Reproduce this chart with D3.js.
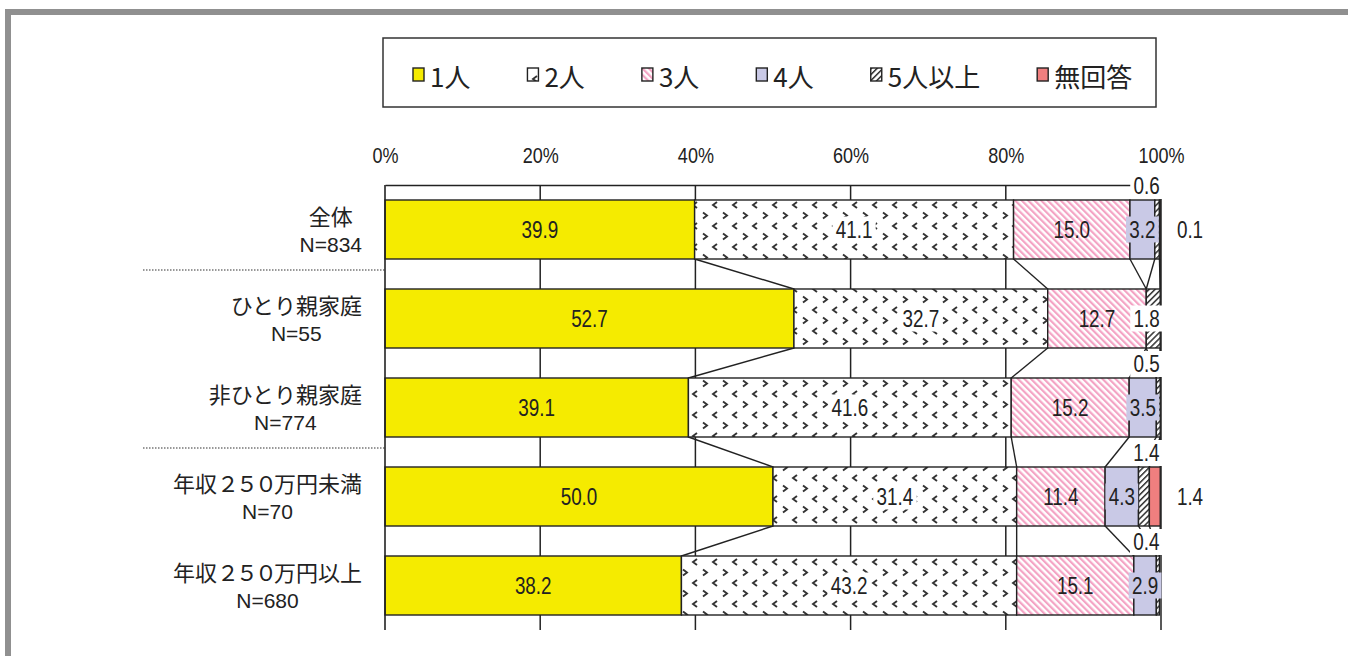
<!DOCTYPE html>
<html>
<head>
<meta charset="utf-8">
<script src="https://cdn.jsdelivr.net/npm/d3@7"></script>
<style>
  body { margin: 0; background: #fff; }
  svg { display: block; }
</style>
</head>
<body>
<svg id="chart" width="1348" height="656"></svg>
<script>
// Household size by group (%)
const categories = ["全体", "ひとり親家庭", "非ひとり親家庭", "年収２５０万円未満", "年収２５０万円以上"];
const sampleSizes = ["N=834", "N=55", "N=774", "N=70", "N=680"];
const seriesNames = ["1人", "2人", "3人", "4人", "5人以上", "無回答"];
const onePerson    = [39.9, 52.7, 39.1, 50.0, 38.2];
const twoPersons   = [41.1, 32.7, 41.6, 31.4, 43.2];
const threePersons = [15.0, 12.7, 15.2, 11.4, 15.1];
const fourPersons  = [3.2, 0, 3.5, 4.3, 2.9];
const fivePlus     = [0.6, 1.8, 0.5, 1.4, 0.4];
const noAnswer     = [0.1, 0, 0, 1.4, 0];
const tickValues   = [0, 20, 40, 60, 80, 100];
const tickLabels   = ["0%", "20%", "40%", "60%", "80%", "100%"];

const seriesValues = [onePerson, twoPersons, threePersons, fourPersons, fivePlus, noAnswer];

// where each series puts its value label: in the segment, above the bar, or right of the plot
const labelMode = ["in", "in", "in", "in", ["above", "in", "above", "above", "above"], "right"];
// dotted separators are drawn under these rows
const groupEnds = [0, 2];

const svg = d3.select("#chart");
const CJK = '"Noto Sans CJK JP", "Noto Sans CJK SC", sans-serif';
const INK = "#222";

// pick a condensed face for the numbers if one is installed
function textWidth(font, s) {
  const c = document.createElement("canvas").getContext("2d");
  c.font = font;
  return c.measureText(s).width;
}
const hasNarrow = textWidth('22px "Liberation Sans Narrow", monospace', "39.9%") !==
                  textWidth('22px monospace', "39.9%");
const NUM_FONT = hasNarrow ? '"Liberation Sans Narrow", "Arial Narrow", sans-serif' : '"Liberation Sans", Arial, sans-serif';
const NUM_SX = hasNarrow ? 1 : 0.82;

// outer frame
svg.append("rect").attr("x", 5).attr("y", 9).attr("width", 1343).attr("height", 6).attr("fill", "#909090");
svg.append("rect").attr("x", 5).attr("y", 9).attr("width", 6).attr("height", 647).attr("fill", "#909090");

// fill patterns
const defs = svg.append("defs");
const pTwo = defs.append("pattern").attr("id", "pat-two").attr("patternUnits", "userSpaceOnUse")
  .attr("width", 20).attr("height", 21);
pTwo.append("rect").attr("width", 20).attr("height", 21).attr("fill", "#fff");
pTwo.append("path").attr("d", "M3,2.5 L7,5.5 L3,8.5").attr("fill", "none").attr("stroke", "#333").attr("stroke-width", 1.9);
pTwo.append("path").attr("d", "M17,13 L13,16 L17,19").attr("fill", "none").attr("stroke", "#333").attr("stroke-width", 1.9);

const pThree = defs.append("pattern").attr("id", "pat-three").attr("patternUnits", "userSpaceOnUse")
  .attr("width", 4.6).attr("height", 10).attr("patternTransform", "rotate(-45)");
pThree.append("rect").attr("width", 4.6).attr("height", 10).attr("fill", "#fff");
pThree.append("rect").attr("width", 2.2).attr("height", 10).attr("fill", "#f4a3c4");

const pFive = defs.append("pattern").attr("id", "pat-five").attr("patternUnits", "userSpaceOnUse")
  .attr("width", 4.2).attr("height", 10).attr("patternTransform", "rotate(45)");
pFive.append("rect").attr("width", 4.2).attr("height", 10).attr("fill", "#fff");
pFive.append("rect").attr("width", 1.5).attr("height", 10).attr("fill", "#333");

const fills = ["#f5eb00", "url(#pat-two)", "url(#pat-three)", "#c9c9e6", "url(#pat-five)", "#f07f7f"];

// scales
const x = d3.scaleLinear().domain([0, 100]).range([385, 1161]);
const y = d3.scaleBand().domain(d3.range(categories.length)).range([185, 630])
  .paddingInner(0.337).paddingOuter(0.1685);
const bw = y.bandwidth();

// stacked layout
const rows = categories.map((c, i) => {
  const o = { idx: i };
  seriesNames.forEach((s, k) => { o[s] = seriesValues[k][i]; });
  return o;
});
const stacked = d3.stack().keys(seriesNames)(rows);

// gridlines
svg.append("g").selectAll("line").data(tickValues.filter(v => v > 0)).join("line")
  .attr("x1", d => x(d)).attr("x2", d => x(d)).attr("y1", 185).attr("y2", 630)
  .attr("stroke", INK).attr("stroke-width", 1.5);

// value axis at top
const xAxis = d3.axisTop(x).tickValues(tickValues).tickFormat((d, i) => tickLabels[i]).tickSize(0).tickPadding(0);
const axG = svg.append("g").attr("transform", "translate(0,185)").call(xAxis);
axG.select(".domain").attr("stroke", INK).attr("stroke-width", 1.5);
axG.selectAll(".tick text").attr("x", 0).attr("y", 0).attr("dy", 0)
  .attr("transform", `translate(0,-30) scale(${NUM_SX},1)`)
  .style("font-family", NUM_FONT).style("font-size", "22px").attr("fill", INK)
  .attr("dominant-baseline", "central");

// series lines between neighbouring bars
const connG = svg.append("g");
stacked.forEach(layer => {
  for (let i = 0; i < categories.length - 1; i++) {
    connG.append("line")
      .attr("x1", x(layer[i][1])).attr("y1", y(i) + bw)
      .attr("x2", x(layer[i + 1][1])).attr("y2", y(i + 1))
      .attr("stroke", INK).attr("stroke-width", 1.4);
  }
});

// bars
stacked.forEach((layer, k) => {
  svg.append("g").selectAll("rect").data(layer.filter(d => d[1] - d[0] > 0)).join("rect")
    .attr("x", d => x(d[0])).attr("y", d => y(d.data.idx))
    .attr("width", d => x(d[1]) - x(d[0])).attr("height", bw)
    .attr("fill", fills[k]).attr("stroke", INK).attr("stroke-width", 1.4);
});

// category axis line
svg.append("line").attr("x1", x(0)).attr("x2", x(0)).attr("y1", 185).attr("y2", 630)
  .attr("stroke", INK).attr("stroke-width", 1.6);

// value labels
const labelG = svg.append("g");
function numLabel(text, cx, cy, bg) {
  const g = labelG.append("g").attr("transform", `translate(${cx},${cy})`);
  const inner = g.append("g").attr("transform", `scale(${NUM_SX},1)`);
  const t = inner.append("text").text(text).attr("text-anchor", "middle").attr("dominant-baseline", "central")
    .style("font-family", NUM_FONT).style("font-size", "23px").attr("fill", INK);
  if (bg) {
    const b = t.node().getBBox();
    let shift = 0;
    const right = cx + (b.x + b.width + 4) * NUM_SX;
    if (right > x(100) + 2) shift = (x(100) + 2 - right) / NUM_SX;
    inner.insert("rect", "text").attr("x", b.x - 4 + shift).attr("y", -13)
      .attr("width", b.width + 8).attr("height", 26).attr("fill", bg);
    t.attr("x", shift);
  }
}
stacked.forEach((layer, k) => {
  layer.forEach((d, i) => {
    const v = seriesValues[k][i];
    if (!(v > 0)) return;
    const mode = Array.isArray(labelMode[k]) ? labelMode[k][i] : labelMode[k];
    const mid = (x(d[0]) + x(d[1])) / 2;
    const cy = y(i) + bw / 2;
    const txt = v.toFixed(1);
    if (mode === "in") {
      const bg = k === 1 ? "#fff" : k === 3 ? "#c9c9e6" : k === 4 ? "#fff" : null;
      numLabel(txt, mid, cy, bg);
    } else if (mode === "above") {
      numLabel(txt, mid + 5, y(i) - 14, "#fff");
    } else {
      numLabel(txt, x(100) + 29, cy, null);
    }
  });
});

// category labels: two centred lines, block right-aligned; full-width digits set a little tighter
const catG = svg.append("g");
categories.forEach((c, i) => {
  const cy = y(i) + bw / 2;
  const g = catG.append("g");
  const t1 = g.append("text").attr("dominant-baseline", "central").attr("text-anchor", "middle")
    .style("font-family", CJK).style("font-size", "22px").attr("fill", INK);
  (c.match(/[０-９]+|[^０-９]+/g) || []).forEach(run => {
    const ts = t1.append("tspan").text(run);
    if (/[０-９]/.test(run)) ts.style("letter-spacing", "-3px");
  });
  const t2 = g.append("text").text(sampleSizes[i]).attr("dominant-baseline", "central").attr("text-anchor", "middle")
    .style("font-family", '"Liberation Sans", Arial, sans-serif').style("font-size", "21px").attr("fill", INK);
  const w = Math.max(t1.node().getComputedTextLength(), t2.node().getComputedTextLength());
  const cx = 362 - w / 2;
  t1.attr("x", cx).attr("y", cy - 15);
  t2.attr("x", cx).attr("y", cy + 15);
});

// dotted group separators
groupEnds.forEach(i => {
  const yy = y(i) + bw + 11;
  svg.append("line").attr("x1", 143).attr("x2", x(0)).attr("y1", yy).attr("y2", yy)
    .attr("stroke", "#333").attr("stroke-width", 1.2).attr("stroke-dasharray", "1.5,1.5");
});

// legend
const leg = svg.append("g");
leg.append("rect").attr("x", 383).attr("y", 38).attr("width", 773).attr("height", 69)
  .attr("fill", "#fff").attr("stroke", "#333").attr("stroke-width", 1.5);
let lx = 413;
seriesNames.forEach((s, k) => {
  leg.append("rect").attr("x", lx).attr("y", 68).attr("width", 11).attr("height", 13)
    .attr("fill", fills[k]).attr("stroke", INK).attr("stroke-width", 1.4);
  const t = leg.append("text").text(s).attr("x", lx + 17).attr("y", 75).attr("dominant-baseline", "central")
    .style("font-family", CJK).style("font-size", "26px").attr("fill", INK);
  lx += 17 + t.node().getComputedTextLength() + 57;
});
</script>
</body>
</html>
